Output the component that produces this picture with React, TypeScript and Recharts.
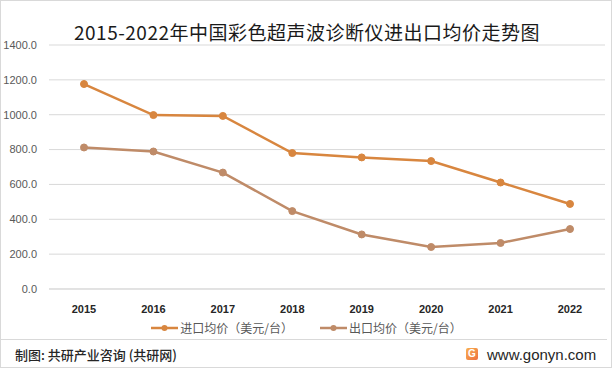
import React from "react";
import { LineChart, Line, XAxis, YAxis, CartesianGrid, Legend } from "recharts";

const years = ["2015", "2016", "2017", "2018", "2019", "2020", "2021", "2022"];
const importPrice = [1176, 998, 993, 780, 755, 734, 611, 488];
const exportPrice = [812, 789, 668, 447, 313, 241, 264, 344];
const yTicks = [0, 200, 400, 600, 800, 1000, 1200, 1400];

const IMPORT_NAME = "进口均价（美元/台）";
const EXPORT_NAME = "出口均价（美元/台）";
const IMPORT_COLOR = "#D8863F";
const EXPORT_COLOR = "#BF8B68";

const data = years.map((y, i) => ({ year: y, imp: importPrice[i], exp: exportPrice[i] }));

const FONT = "'Noto Sans CJK SC', 'Liberation Sans', sans-serif";

const legendItems = [
  { name: IMPORT_NAME, color: IMPORT_COLOR },
  { name: EXPORT_NAME, color: EXPORT_COLOR },
];

function LegendContent() {
  return (
    <div
      style={{
        display: "flex",
        justifyContent: "center",
        alignItems: "center",
        gap: 27,
        fontFamily: FONT,
        fontSize: 12,
        color: "#595959",
        paddingLeft: 8,
      }}
    >
      {legendItems.map((it) => (
        <div key={it.name} style={{ display: "flex", alignItems: "center" }}>
          <svg width={27} height={10} style={{ marginRight: 2 }}>
            <line x1={0} y1={5} x2={27} y2={5} stroke={it.color} strokeWidth={2.5} />
            <circle cx={13.5} cy={5} r={3} fill={it.color} />
          </svg>
          <span>{it.name}</span>
        </div>
      ))}
    </div>
  );
}

export default function App() {
  return (
    <div
      style={{
        position: "absolute",
        left: 0,
        top: 0,
        width: 612,
        height: 368,
        background: "#fff",
        boxSizing: "border-box",
        border: "1px solid #D9D9D9",
        fontFamily: FONT,
        overflow: "hidden",
      }}
    >
      <div
        style={{
          position: "absolute",
          left: 0,
          top: 18,
          width: 612,
          textAlign: "center",
          fontSize: 19,
          letterSpacing: 0.5,
          color: "#1a1a1a",
          lineHeight: "26px",
        }}
      >
        2015-2022年中国彩色超声波诊断仪进出口均价走势图
      </div>
      <div style={{ position: "absolute", left: -1, top: -1 }}>
        <LineChart
          width={612}
          height={340}
          data={data}
          margin={{ top: 45, right: 7, left: 0, bottom: 0 }}
        >
          <CartesianGrid vertical={false} stroke="#D9D9D9" strokeWidth={1} />
          <XAxis
            dataKey="year"
            axisLine={{ stroke: "#D9D9D9" }}
            tickLine={false}
            padding={{ left: 35, right: 35 }}
            tick={{ fill: "#262626", fontSize: 11, fontWeight: 700, fontFamily: "'Liberation Sans', sans-serif" }}
            tickMargin={10}
            height={30}
          />
          <YAxis
            domain={[0, 1400]}
            ticks={yTicks}
            axisLine={false}
            tickLine={false}
            width={49}
            tickFormatter={(v: number) => v.toFixed(1)}
            tick={{ fill: "#595959", fontSize: 11, fontFamily: "'Liberation Sans', sans-serif" }}
            tickMargin={6}
          />
          <Legend verticalAlign="bottom" height={21} content={() => <LegendContent />} />
          <Line
            name={IMPORT_NAME}
            dataKey="imp"
            stroke={IMPORT_COLOR}
            strokeWidth={2.5}
            dot={{ r: 3.5, fill: IMPORT_COLOR, stroke: IMPORT_COLOR, strokeWidth: 1 }}
            isAnimationActive={false}
          />
          <Line
            name={EXPORT_NAME}
            dataKey="exp"
            stroke={EXPORT_COLOR}
            strokeWidth={2.5}
            dot={{ r: 3.5, fill: EXPORT_COLOR, stroke: EXPORT_COLOR, strokeWidth: 1 }}
            isAnimationActive={false}
          />
        </LineChart>
      </div>
      <div
        style={{
          position: "absolute",
          left: 0,
          top: 338,
          width: 606,
          height: 1,
          background: "#D9D9D9",
        }}
      />
      <div
        style={{
          position: "absolute",
          left: 14,
          top: 345,
          fontSize: 13,
          fontWeight: 500,
          color: "#262626",
          lineHeight: "18px",
        }}
      >
        制图: 共研产业咨询 (共研网)
      </div>
      <div
        style={{
          position: "absolute",
          left: 465,
          top: 347,
          width: 12,
          height: 12,
          borderRadius: 2,
          background: "linear-gradient(135deg, #F8B050, #EE7040)",
          color: "#fff",
          fontSize: 10,
          fontWeight: 700,
          lineHeight: "12px",
          textAlign: "center",
          fontFamily: "'Liberation Sans', sans-serif",
        }}
      >
        G
      </div>
      <div
        style={{
          position: "absolute",
          left: 486,
          top: 344,
          fontSize: 15,
          color: "#262626",
          lineHeight: "20px",
          fontFamily: "'Liberation Sans', sans-serif",
        }}
      >
        www.gonyn.com
      </div>
    </div>
  );
}
